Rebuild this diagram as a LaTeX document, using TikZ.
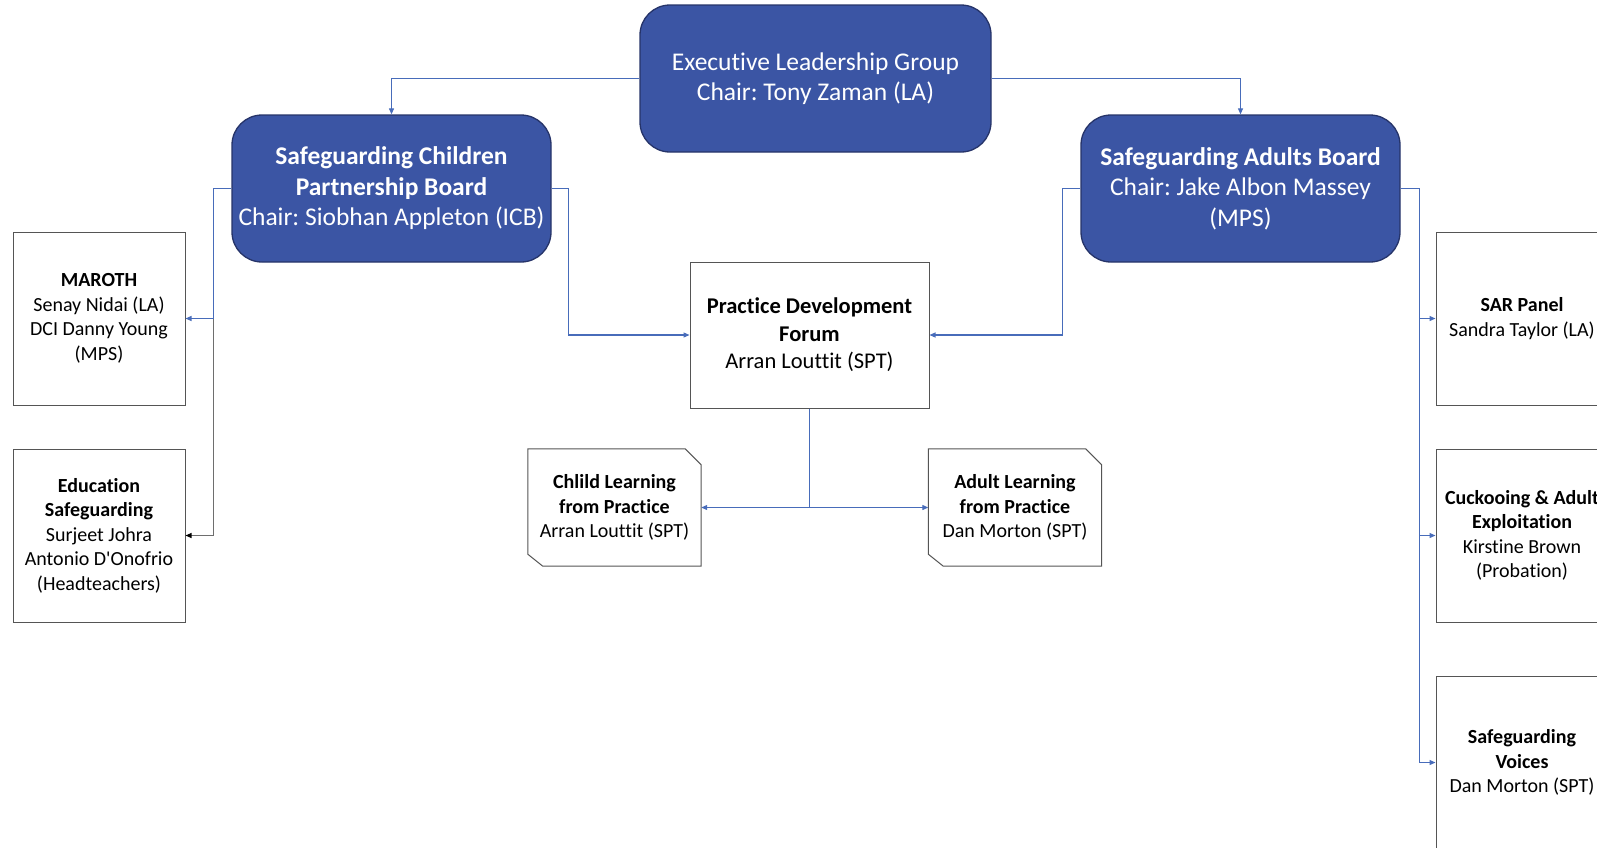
\documentclass[tikz,border=0pt]{standalone}
\usepackage{fontspec}
\setmainfont{Carlito}[Ligatures=NoCommon]
\usetikzlibrary{arrows.meta}
\definecolor{boardblue}{RGB}{59,85,164}
\definecolor{boardedge}{RGB}{38,52,105}
\definecolor{linkblue}{RGB}{72,108,186}
\definecolor{boxedge}{RGB}{85,85,85}
\definecolor{linkgray}{RGB}{110,110,110}
\frenchspacing
\begin{document}
\begin{tikzpicture}[x=1pt,y=-1pt,
  board/.style={draw=boardedge, line width=1.3pt, fill=boardblue, rounded corners=30pt,
    text=white, align=center, inner sep=0pt, font=\fontsize{25.5}{30.5}\selectfont,
    minimum width=319pt, minimum height=147pt},
  panel/.style={draw=boxedge, line width=1pt, fill=white, align=center, inner sep=0pt,
    font=\fontsize{20}{24.5}\selectfont, minimum width=172pt, minimum height=173pt},
  snipbox/.style={align=center, inner sep=0pt, font=\fontsize{20}{24.5}\selectfont,
    minimum width=173pt, minimum height=117pt},
  boxline/.style={draw=boxedge, line width=1pt},
  link/.style={draw=linkblue, line width=1.1pt, -{Triangle[length=6pt,width=5pt]}},
  graylink/.style={draw=linkgray, line width=1.1pt, -{Triangle[length=6pt,width=5pt,fill=black,color=black]}}
]
\useasboundingbox (0,0) rectangle (1597,847);
\clip (0,0) rectangle (1597,847);

% boards
\node[board, minimum width=351pt] (elg) at (815.5,78.5)
  {Executive Leadership Group\\Chair: Tony Zaman (LA)};
\node[board] (scpb) at (391.5,188.5)
  {\textbf{Safeguarding Children}\\\textbf{Partnership Board}\\Chair: Siobhan Appleton (ICB)};
\node[board] (sab) at (1240.5,188.5)
  {\textbf{Safeguarding Adults Board}\\Chair: Jake Albon Massey\\(MPS)};

% practice development forum
\node[panel, minimum width=239pt, minimum height=146pt, font=\fontsize{22.5}{27.5}\selectfont] (pdf) at (809.5,335)
  {\textbf{Practice Development}\\\textbf{Forum}\\Arran Louttit (SPT)};

% left panels
\node[panel] (maroth) at (99,318.5)
  {\textbf{MAROTH}\\Senay Nidai (LA)\\DCI Danny Young\\(MPS)};
\node[panel] (edu) at (99,535.5)
  {\textbf{Education}\\\textbf{Safeguarding}\\Surjeet Johra\\Antonio D\textquotesingle Onofrio\\(Headteachers)};

% right panels
\node[panel] (sar) at (1522,318.5)
  {\textbf{SAR Panel}\\Sandra Taylor (LA)};
\node[panel] (cuck) at (1522,535.5)
  {\textbf{Cuckooing \& Adult}\\\textbf{Exploitation}\\Kirstine Brown\\(Probation)};
\node[panel] (voices) at (1522,762.5)
  {\textbf{Safeguarding}\\\textbf{Voices}\\Dan Morton (SPT)};

% learning boxes (snipped corners)
\node[snipbox] (child) at (614.5,507.5)
  {\textbf{Chlild Learning}\\\textbf{from Practice}\\Arran Louttit (SPT)};
\node[snipbox] (adult) at (1015,507.5)
  {\textbf{Adult Learning}\\\textbf{from Practice}\\Dan Morton (SPT)};
\foreach \n in {child,adult}{
  \draw[boxline] (\n.north west) -- ([xshift=-16pt]\n.north east) -- ([yshift=-16pt]\n.north east)
    -- (\n.south east) -- ([xshift=15pt]\n.south west) -- ([yshift=12pt]\n.south west) -- cycle;
}

% connectors
\draw[link] (elg.west) -| (scpb.north);
\draw[link] (elg.east) -| (sab.north);

\draw[graylink] (scpb.west) -- ++(-18,0) |- (edu.east);
\draw[link] (scpb.west) -- ++(-18,0) |- (maroth.east);

\draw[link] (scpb.east) -- ++(17,0) |- (pdf.west);
\draw[link] (sab.west) -- ++(-18,0) |- (pdf.east);

\draw[link] (sab.east) -- ++(19,0) |- (voices.west);
\draw[link] (sab.east) -- ++(19,0) |- (cuck.west);
\draw[link] (sab.east) -- ++(19,0) |- (sar.west);

\draw[link] (pdf.south) |- (child.east);
\draw[link] (pdf.south) |- (adult.west);
\end{tikzpicture}
\end{document}
